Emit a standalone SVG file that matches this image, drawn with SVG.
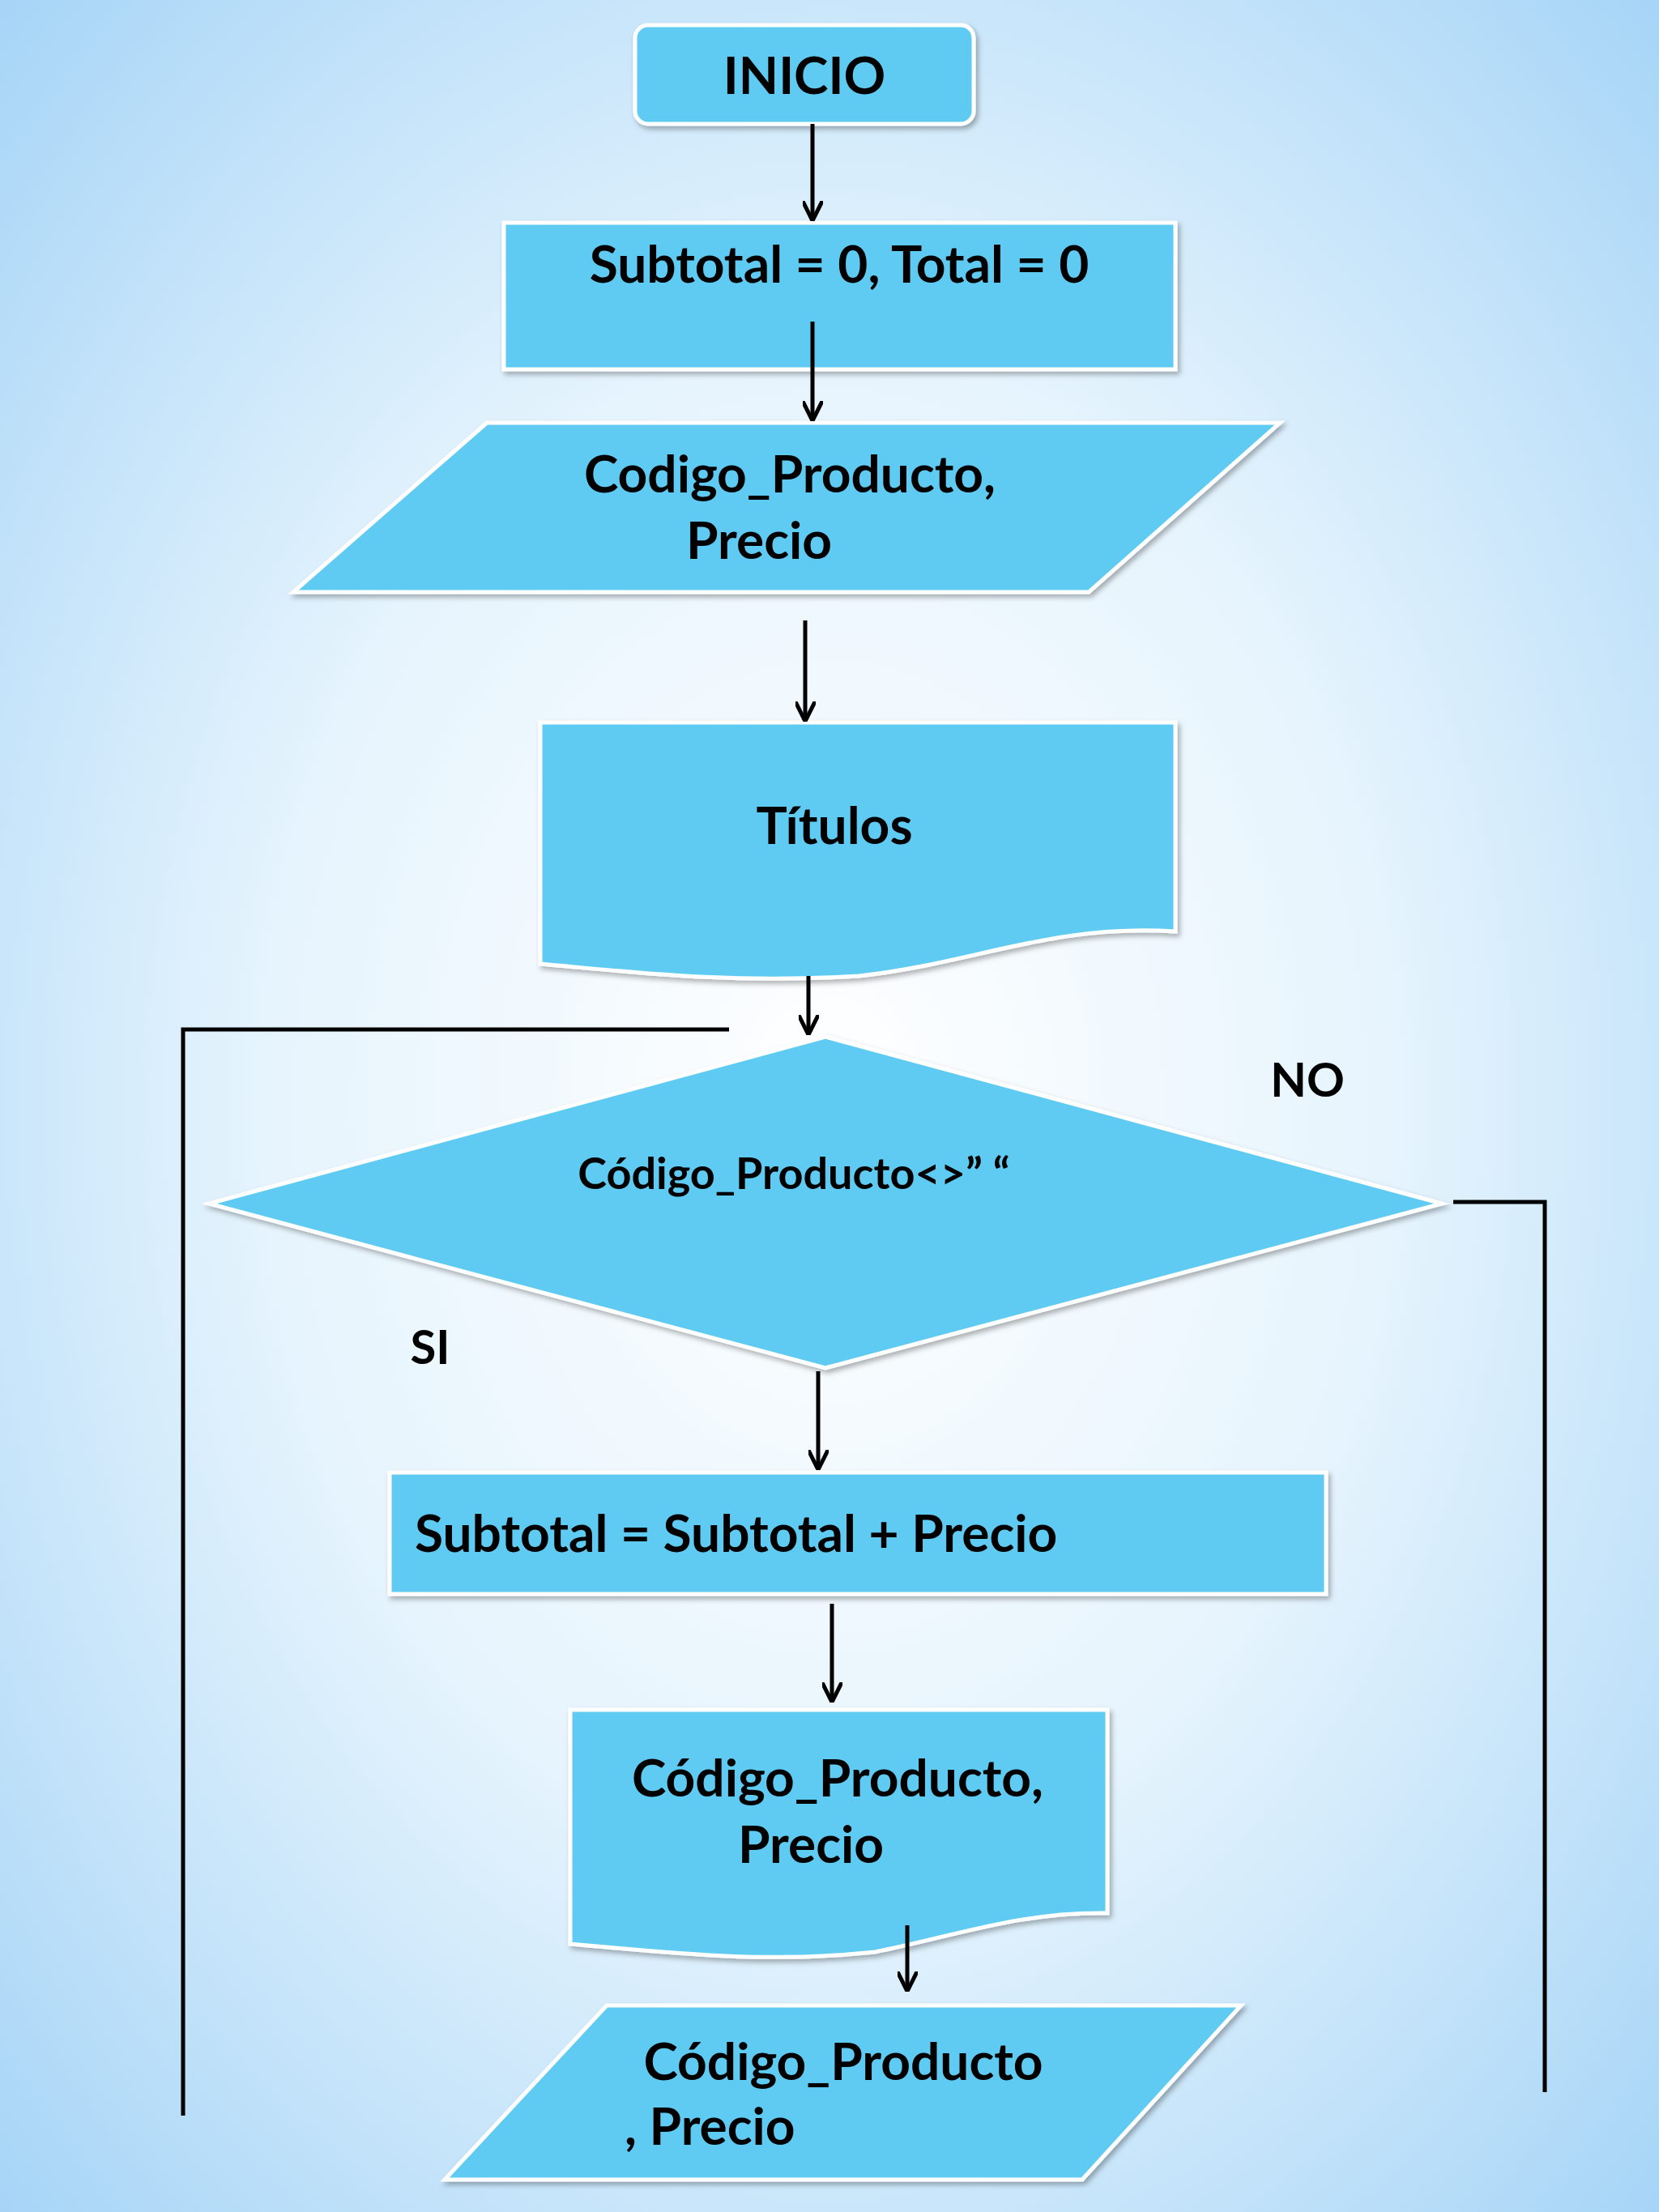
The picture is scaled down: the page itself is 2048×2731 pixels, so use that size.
<svg xmlns="http://www.w3.org/2000/svg" width="2048" height="2731" viewBox="0 0 2048 2731">
<defs>
<radialGradient id="bg" cx="0.5" cy="0.5" r="0.75">
<stop offset="0" stop-color="#ffffff"/><stop offset="0.45" stop-color="#e6f4fd"/><stop offset="1" stop-color="#9fd1f6"/>
</radialGradient>
<marker id="ah" viewBox="0 0 10 10" refX="9" refY="5" markerWidth="5" markerHeight="5" orient="auto"><path d="M0,0 L10,5 L0,10" fill="none" stroke="#000" stroke-width="2"/></marker>
<filter id="sh"><feDropShadow dx="3" dy="4" stdDeviation="3" flood-opacity="0.3"/></filter>
</defs>
<style>
.n{fill:#5ecbf2;stroke:#fff;stroke-width:5;filter:url(#sh)}
.t{font-family:Lato,"Open Sans",sans-serif;font-weight:bold;font-size:64px;fill:#000;text-anchor:middle}
.c line,.c polyline{stroke:#000;stroke-width:5;fill:none}
</style>
<rect width="2048" height="2731" fill="url(#bg)"/>
<g id="inicio"><rect class="n" x="784" y="31" width="418" height="122" rx="16"/><text class="t" x="993" y="116">INICIO</text></g>
<g id="init"><rect class="n" x="622" y="275" width="829" height="181"/><text class="t" x="1036" y="349">Subtotal = 0, Total = 0</text></g>
<g id="input1"><polygon class="n" points="601,522 1580,522 1344,731 362,731"/><text class="t" x="975" y="608">Codigo_Producto,</text><text class="t" x="937" y="690">Precio</text></g>
<g id="titulos"><path class="n" d="M667,892 H1451 V1150 C1300,1140 1200,1190 1060,1205 C900,1215 780,1200 667,1190 Z"/><text class="t" x="1030" y="1042">Títulos</text></g>
<g id="cond"><polygon class="n" points="1019,1280 1780,1486 1019,1689 258,1486"/><text class="t" x="980" y="1468" style="font-size:54px">Código_Producto&lt;&gt;” “</text></g>
<g id="lblno"><text class="t" x="1614" y="1354" style="font-size:58px">NO</text></g>
<g id="lblsi"><text class="t" x="531" y="1684" style="font-size:58px">SI</text></g>
<g id="suma"><rect class="n" x="481" y="1818" width="1156" height="150"/><text class="t" x="512" y="1916" style="text-anchor:start">Subtotal = Subtotal + Precio</text></g>
<g id="doc2"><path class="n" d="M704,2111 H1367 V2362 C1260,2360 1180,2390 1080,2410 C940,2425 820,2410 704,2400 Z"/><text class="t" x="1034" y="2218">Código_Producto,</text><text class="t" x="1001" y="2300">Precio</text></g>
<g id="input2"><polygon class="n" points="749,2476 1532,2476 1336,2691 549,2691"/><text class="t" x="1041" y="2568">Código_Producto</text><text class="t" x="771" y="2648" style="text-anchor:start">, Precio</text></g>
<g class="c" id="connectors">
<line x1="1003" y1="153" x2="1003" y2="270" marker-end="url(#ah)"/>
<line x1="1003" y1="397" x2="1003" y2="517" marker-end="url(#ah)"/>
<line x1="994" y1="766" x2="994" y2="888" marker-end="url(#ah)"/>
<line x1="998" y1="1205" x2="998" y2="1275" marker-end="url(#ah)"/>
<polyline points="900,1271 226,1271 226,2612"/>
<polyline points="1794,1484 1907,1484 1907,2583"/>
<line x1="1010" y1="1693" x2="1010" y2="1812" marker-end="url(#ah)"/>
<line x1="1027" y1="1980" x2="1027" y2="2099" marker-end="url(#ah)"/>
<line x1="1120" y1="2377" x2="1120" y2="2456" marker-end="url(#ah)"/>
</g>
</svg>
